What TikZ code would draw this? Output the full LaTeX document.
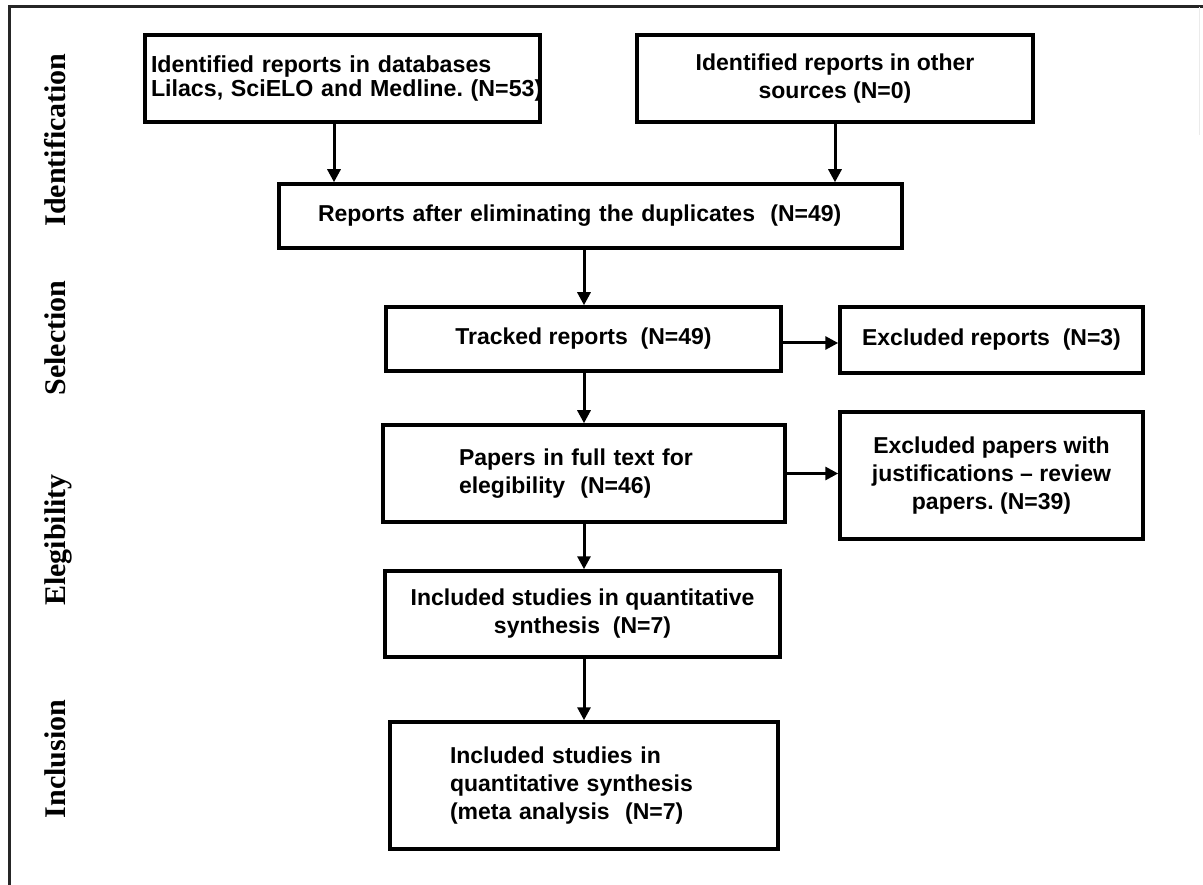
\documentclass[tikz,border=0pt]{standalone}
\usepackage{fontspec}
\setmainfont{Liberation Sans}
\newfontfamily\lblfont{Liberation Serif}
\usetikzlibrary{arrows.meta}
\frenchspacing
\begin{document}
\begin{tikzpicture}[x=1pt,y=-1pt,
  box/.style={draw, line width=3.5pt, rectangle, inner sep=0pt,
    font=\fontsize{23}{28}\selectfont\bfseries\frenchspacing, align=center},
  arr/.style={line width=3pt, -{Triangle[length=13pt,width=13pt]}},
  lbl/.style={rotate=90, anchor=base, font=\fontsize{30}{36}\selectfont\lblfont\bfseries}]
\useasboundingbox (0,0) rectangle (1203,885);
\fill[white] (0,0) rectangle (1203,885);
% frame
\draw[line width=3pt, black!85] (9,885) -- (9,7) -- (1203,7);
\draw[line width=0.8pt, black!8] (1199,7) -- (1199,135);
% side labels
\node[lbl] (l1) at (65,140) {Identification};
\node[lbl] (l2) at (65,338) {Selection};
\node[lbl] (l3) at (65,540) {Elegibility};
\node[lbl] (l4) at (65,759) {Inclusion};
% boxes
\node[box, minimum width=395pt, minimum height=87pt, text width=383pt, align=left,
  font=\fontsize{23.2}{24.5}\selectfont\bfseries\frenchspacing] (A) at (342.5,78.5)
  {\mbox{Identified reports in databases}\\\mbox{Lilacs, SciELO and Medline. (N=53)}};
\node[box, minimum width=396pt, minimum height=87pt] (B) at (835,78.5)
  {Identified reports in other\\sources (N=0)};
\node[box, minimum width=623pt, minimum height=64pt, text width=545pt, align=left] (C) at (590.5,216)
  {Reports after eliminating the duplicates\ \ (N=49)};
\node[box, minimum width=395pt, minimum height=64pt] (D) at (583.5,339)
  {Tracked reports\ \ (N=49)};
\node[box, minimum width=303pt, minimum height=66pt] (E) at (991.5,340)
  {Excluded reports\ \ (N=3)};
\node[box, minimum width=402pt, minimum height=97pt, text width=250pt, align=left] (F) at (584,473.5)
  {Papers in full text for\\elegibility\ \ (N=46)};
\node[box, minimum width=303pt, minimum height=127pt] (G) at (991.5,475.5)
  {Excluded papers with\\justifications -- review\\papers. (N=39)};
\node[box, minimum width=395pt, minimum height=86pt] (H) at (582.5,614)
  {Included studies in quantitative\\synthesis\ \ (N=7)};
\node[box, minimum width=388pt, minimum height=127pt, text width=268pt, align=left] (I) at (584,785.5)
  {Included studies in\\quantitative synthesis\\(meta analysis\ \ (N=7)};
% connectors
\coordinate (sp) at (584,0);
\draw[arr] ([xshift=-8.5pt]A.south) -- ([xshift=-8.5pt]A.south |- C.north);
\draw[arr] (B.south) -- (B.south |- C.north);
\draw[arr] (C.south -| sp) -- (D.north -| sp);
\draw[arr] ([yshift=-4pt]D.east) -- ([yshift=-4pt]D.east -| E.west);
\draw[arr] (D.south -| sp) -- (F.north -| sp);
\draw[arr] (F.east) -- (F.east -| G.west);
\draw[arr] (F.south -| sp) -- (H.north -| sp);
\draw[arr] (H.south -| sp) -- (I.north -| sp);
\end{tikzpicture}
\end{document}
